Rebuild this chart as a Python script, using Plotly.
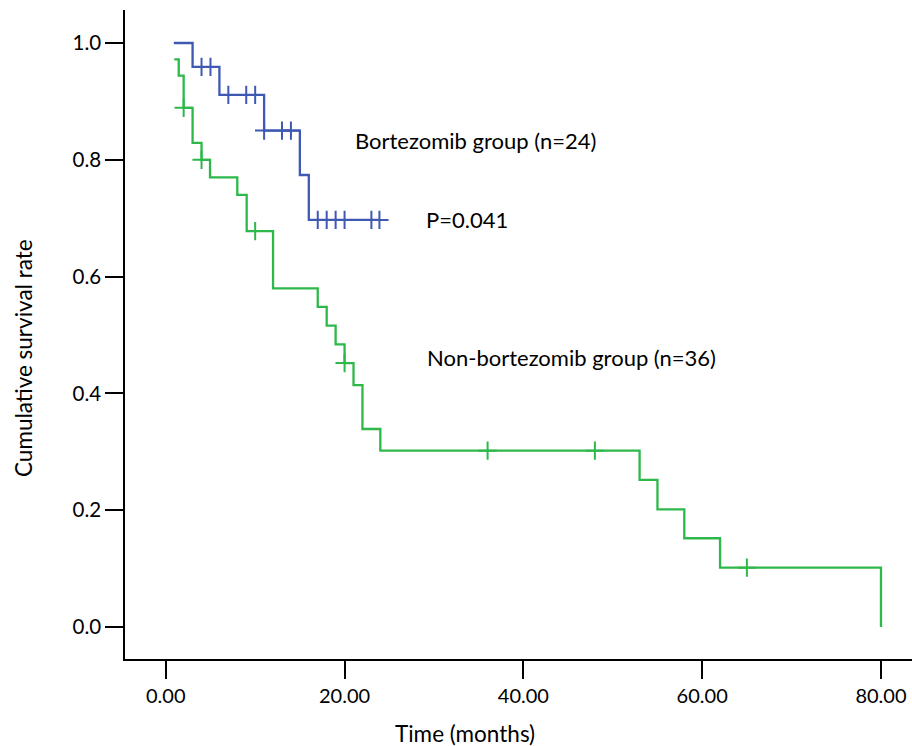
import plotly.graph_objects as go

# Bortezomib group (n=24): step curve (time, survival)
bort_time = [0.9, 3.0, 6.0, 11.0, 15.0, 16.0, 23.9]
bort_surv = [1.000, 0.959, 0.911, 0.850, 0.774, 0.697, 0.697]
bort_cens_time = [4.0, 5.0, 7.0, 9.0, 10.0, 11.0, 13.0, 14.0, 17.0, 18.0, 19.0, 20.0, 23.0, 23.9]
bort_cens_surv = [0.959, 0.959, 0.911, 0.911, 0.911, 0.850, 0.850, 0.850, 0.697, 0.697, 0.697, 0.697, 0.697, 0.697]

# Non-bortezomib group (n=36)
non_time = [0.95, 1.45, 2.0, 3.0, 4.0, 4.95, 8.0, 9.05, 12.0, 17.0, 18.0, 19.0, 20.0, 21.0, 22.0, 24.0, 53.0, 55.0, 58.0, 62.0, 80.0]
non_surv = [0.972, 0.944, 0.889, 0.829, 0.800, 0.770, 0.740, 0.678, 0.580, 0.548, 0.516, 0.484, 0.452, 0.414, 0.339, 0.302, 0.252, 0.2015, 0.152, 0.1015, 0.0]
non_cens_time = [2.0, 4.0, 10.0, 20.0, 36.0, 48.0, 65.0]
non_cens_surv = [0.889, 0.800, 0.678, 0.452, 0.302, 0.302, 0.1015]

x_ticks = [0, 20, 40, 60, 80]
x_tick_text = ["0.00", "20.00", "40.00", "60.00", "80.00"]
y_ticks = [0.0, 0.2, 0.4, 0.6, 0.8, 1.0]
y_tick_text = ["0.0", "0.2", "0.4", "0.6", "0.8", "1.0"]

BLUE = "#3f59b2"
GREEN = "#2fb84a"
FONT = "Lato"
OFF = 0  # page body margin removed via post_script

W, H = 912 - OFF, 746 - OFF
ML, MT, MB, MR = 125 - OFF, 10 - OFF, 87, 0

fig = go.Figure()
fig.add_trace(go.Scatter(x=bort_time, y=bort_surv, mode="lines", line=dict(shape="hv", color=BLUE, width=2.3), showlegend=False))
fig.add_trace(go.Scatter(x=bort_cens_time, y=bort_cens_surv, mode="markers",
                         marker=dict(symbol="cross-thin", size=13, line=dict(color=BLUE, width=2)), showlegend=False))
fig.add_trace(go.Scatter(x=non_time, y=non_surv, mode="lines", line=dict(shape="hv", color=GREEN, width=2.3), showlegend=False))
fig.add_trace(go.Scatter(x=non_cens_time, y=non_cens_surv, mode="markers",
                         marker=dict(symbol="cross-thin", size=13, line=dict(color=GREEN, width=2)), showlegend=False))

pw, ph = W - ML - MR, H - MT - MB


def px2paper(px, py):
    return (px - OFF - ML) / pw, 1 - (py - OFF - MT) / ph


texts = [
    ("Bortezomib group (n=24)", 354, 141, "left", 0, 22),
    ("P=0.041", 425, 219, "left", 0, 22),
    ("Non-bortezomib group (n=36)", 426, 357, "left", 0, 22),
    ("Time (months)", 465, 733, "center", 0, 22.5),
    ("Cumulative survival rate", 23, 358, "center", -90, 22.5),
]
annotations = []
for t, px, py, xa, ang, fs in texts:
    x, y = px2paper(px, py)
    annotations.append(dict(text=t, showarrow=False, xref="paper", yref="paper", x=x, y=y,
                            xanchor=xa, yanchor="middle", textangle=ang, borderpad=0,
                            font=dict(family=FONT, size=fs, color="black")))

fig.update_layout(
    width=W, height=H,
    margin=dict(l=ML, r=MR, t=MT, b=MB, pad=0),
    plot_bgcolor="white", paper_bgcolor="white",
    font=dict(family=FONT, size=20, color="black"),
    xaxis=dict(range=[-4.56, 83.47], showgrid=False, zeroline=False, showline=True, linecolor="black", linewidth=1.5,
               tickmode="array", tickvals=x_ticks, ticktext=x_tick_text, ticks="outside", ticklen=18, tickwidth=2,
               tickcolor="black", tickfont=dict(family=FONT, size=20)),
    yaxis=dict(range=[-0.0548, 1.0565], showgrid=False, zeroline=False, showline=True, linecolor="black", linewidth=1.5,
               tickmode="array", tickvals=y_ticks, ticktext=y_tick_text, ticks="outside", ticklen=18, tickwidth=2,
               tickcolor="black", tickfont=dict(family=FONT, size=20.5)),
    annotations=annotations,
)

fig.write_html("out.html", config={"displayModeBar": False},
               post_script="document.body.style.margin='0';document.documentElement.style.overflow='hidden';")
